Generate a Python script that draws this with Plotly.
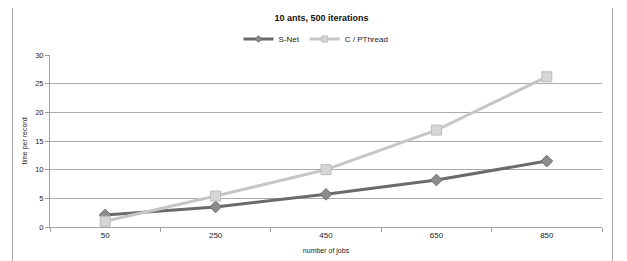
import plotly.graph_objects as go

categories = ["50", "250", "450", "650", "850"]
snet = [2.1, 3.5, 5.7, 8.2, 11.5]
cpthread = [1.0, 5.4, 10.0, 16.9, 26.2]
yticks = [0, 5, 10, 15, 20, 25, 30]

FONT = "Liberation Sans, Arial, Helvetica, sans-serif"
SNET_LINE, SNET_MK, SNET_MKL = "#6b6b6b", "#8c8c8c", "#6b6b6b"
CP_LINE, CP_MK, CP_MKL = "#c6c6c6", "#d6d6d6", "#bcbcbc"

fig = go.Figure()
fig.add_trace(go.Scatter(
    x=categories, y=snet, name="S-Net", mode="lines+markers", showlegend=False,
    line=dict(color=SNET_LINE, width=3),
    marker=dict(symbol="diamond", size=9, color=SNET_MK,
                line=dict(color=SNET_MKL, width=1)),
))
fig.add_trace(go.Scatter(
    x=categories, y=cpthread, name="C / PThread", mode="lines+markers", showlegend=False,
    line=dict(color=CP_LINE, width=3),
    marker=dict(symbol="square", size=10, color=CP_MK,
                line=dict(color=CP_MKL, width=1)),
))
# legend entries (same styles, smaller symbols as in the reference legend)
fig.add_trace(go.Scatter(
    x=[None], y=[None], name="S-Net", mode="lines+markers",
    line=dict(color=SNET_LINE, width=3),
    marker=dict(symbol="diamond", size=5, color=SNET_MK,
                line=dict(color=SNET_MKL, width=1)),
))
fig.add_trace(go.Scatter(
    x=[None], y=[None], name="C / PThread", mode="lines+markers",
    line=dict(color=CP_LINE, width=3),
    marker=dict(symbol="square", size=6, color=CP_MK,
                line=dict(color=CP_MKL, width=1)),
))

# page body has an 8px margin, so coordinates are offset by -8
OFF = 8
W, H = 627 - OFF, 261 - OFF
L, R, T, B = 50 - OFF, 25, 55 - OFF, 34
pw, ph = W - L - R, H - T - B

def px_x(x):
    return (x - OFF - L) / pw

def px_y(y):
    return (H - B - (y - OFF)) / ph

fig.update_layout(
    width=W, height=H,
    margin=dict(l=L, r=R, t=T, b=B, autoexpand=False),
    paper_bgcolor="white", plot_bgcolor="white",
    font=dict(family=FONT, size=8, color="#222222"),
    title=dict(text="<b>10 ants, 500 iterations</b>", x=(312.5 - OFF) / W, xref="paper",
               xanchor="center", y=1 - (18 - OFF) / H, yanchor="middle",
               font=dict(size=9, color="#111111")),
    showlegend=True,
    legend=dict(orientation="h", x=px_x(316), xanchor="center", y=px_y(39),
                yanchor="middle", font=dict(size=8, color="#222222"),
                itemwidth=30, itemsizing="trace",
                bgcolor="rgba(0,0,0,0)", tracegroupgap=0),
    xaxis=dict(
        type="category", range=[-0.5, 4.5], tickson="boundaries",
        ticks="outside", ticklen=4, tickcolor="#a0a0a0",
        showline=True, linecolor="#a0a0a0", linewidth=1,
        showgrid=False, tickfont=dict(size=8), automargin=False,
        title=dict(text="number of jobs", font=dict(size=7, color="#222222"), standoff=9),
    ),
    yaxis=dict(
        range=[0, 30], tickvals=yticks, ticks="outside", ticklen=4,
        tickcolor="#a0a0a0", showline=True, linecolor="#a0a0a0", linewidth=1,
        showgrid=True, gridcolor="#ababab", gridwidth=1, zeroline=False,
        tickfont=dict(size=7.5), automargin=False,
        title=dict(text="time per record", font=dict(size=7, color="#222222"), standoff=6),
    ),
    shapes=[dict(type="rect", xref="paper", yref="paper",
                 x0=px_x(12.5), x1=px_x(612.5), y0=px_y(275), y1=px_y(4.5),
                 line=dict(color="#a8a8a8", width=1), layer="below")],
)

fig.write_html("out.html")
